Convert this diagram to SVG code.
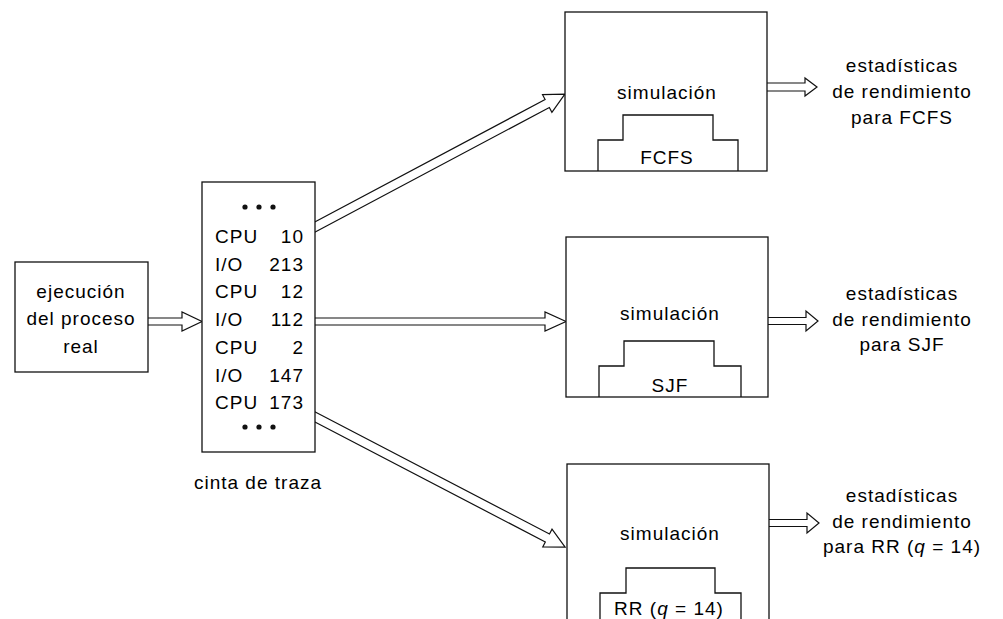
<svg xmlns="http://www.w3.org/2000/svg" width="1003" height="619" viewBox="0 0 1003 619">
<style>
  .box { fill: #fff; stroke: #111; stroke-width: 1.3; }
  .ln { fill: none; stroke: #111; stroke-width: 1.3; }
  .arr { fill: #fff; stroke: #111; stroke-width: 1.2; stroke-linejoin: miter; }
  text { font-family: "Liberation Sans", Arial, sans-serif; font-size: 19px; fill: #000; letter-spacing: 1px; }
  .c { text-anchor: middle; }
  .e { text-anchor: end; }
  .dot { fill: #111; }
</style>
<rect width="1003" height="619" fill="#fff"/>
<g id="connectors">
  <path class="arr" d="M140,318 L182,318 L182,312 L202,321.5 L182,331 L182,325 L140,325"/>
  <path class="arr" transform="translate(315,227) rotate(-28)" d="M-8,-4.5 L263,-4.5 L263,-10 L283,0 L263,10 L263,4.5 L-8,4.5"/>
  <path class="arr" d="M305,318 L545,318 L545,312 L566,321.5 L545,331 L545,325 L305,325"/>
  <path class="arr" transform="translate(315,417) rotate(27.5)" d="M-8,-4.5 L262,-4.5 L262,-10 L282,0 L262,10 L262,4.5 L-8,4.5"/>
  <path class="arr" d="M760,83 L805,83 L805,78 L817,87 L805,96 L805,91 L760,91"/>
  <path class="arr" d="M760,317.5 L806,317.5 L806,311 L818,321 L806,331 L806,324.5 L760,324.5"/>
  <path class="arr" d="M760,519.5 L807,519.5 L807,513 L819,523 L807,533 L807,526.5 L760,526.5"/>
</g>
<g id="proceso-real">
  <rect class="box" x="15" y="262" width="133" height="110"/>
  <text class="c" x="81" y="298">ejecución</text>
  <text class="c" x="81" y="325">del proceso</text>
  <text class="c" x="81" y="353">real</text>
</g>
<g id="cinta-traza">
  <rect class="box" x="202" y="182" width="113" height="270"/>
  <circle class="dot" cx="245" cy="207" r="2.6"/>
  <circle class="dot" cx="259" cy="207" r="2.6"/>
  <circle class="dot" cx="273" cy="207" r="2.6"/>
  <text x="215" y="243">CPU</text><text class="e" x="304" y="243">10</text>
  <text x="215" y="271">I/O</text><text class="e" x="304" y="271">213</text>
  <text x="215" y="298">CPU</text><text class="e" x="304" y="298">12</text>
  <text x="215" y="326">I/O</text><text class="e" x="304" y="326">112</text>
  <text x="215" y="354">CPU</text><text class="e" x="304" y="354">2</text>
  <text x="215" y="382">I/O</text><text class="e" x="304" y="382">147</text>
  <text x="215" y="409">CPU</text><text class="e" x="304" y="409">173</text>
  <circle class="dot" cx="245" cy="427" r="2.6"/>
  <circle class="dot" cx="259" cy="427" r="2.6"/>
  <circle class="dot" cx="273" cy="427" r="2.6"/>
  <text class="c" x="258" y="489">cinta de traza</text>
</g>
<g id="sim-fcfs">
  <rect class="box" x="565" y="12" width="202" height="159"/>
  <text class="c" x="667" y="99">simulación</text>
  <path class="ln" d="M598,171 L598,140 L623,140 L623,115 L713,115 L713,140 L738,140 L738,171"/>
  <text class="c" x="667" y="164">FCFS</text>
</g>
<g id="sim-sjf">
  <rect class="box" x="566" y="237" width="202" height="160"/>
  <text class="c" x="670" y="320">simulación</text>
  <path class="ln" d="M599,397 L599,366 L624,366 L624,341 L714,341 L714,366 L741,366 L741,397"/>
  <text class="c" x="670" y="392">SJF</text>
</g>
<g id="sim-rr">
  <rect class="box" x="567" y="464" width="202" height="180"/>
  <text class="c" x="670" y="540">simulación</text>
  <path class="ln" d="M600,625 L600,593 L626,593 L626,568 L715,568 L715,593 L741,593 L741,625"/>
  <text class="c" x="669" y="615">RR (<tspan font-style="italic">q</tspan> = 14)</text>
</g>
<g id="stats-fcfs">
  <text class="c" x="902" y="72">estadísticas</text>
  <text class="c" x="902" y="98">de rendimiento</text>
  <text class="c" x="902" y="124">para FCFS</text>
</g>
<g id="stats-sjf">
  <text class="c" x="902" y="300">estadísticas</text>
  <text class="c" x="902" y="326">de rendimiento</text>
  <text class="c" x="902" y="351">para SJF</text>
</g>
<g id="stats-rr">
  <text class="c" x="902" y="502">estadísticas</text>
  <text class="c" x="902" y="528">de rendimiento</text>
  <text class="c" x="902" y="553">para RR (<tspan font-style="italic">q</tspan> = 14)</text>
</g>
</svg>
